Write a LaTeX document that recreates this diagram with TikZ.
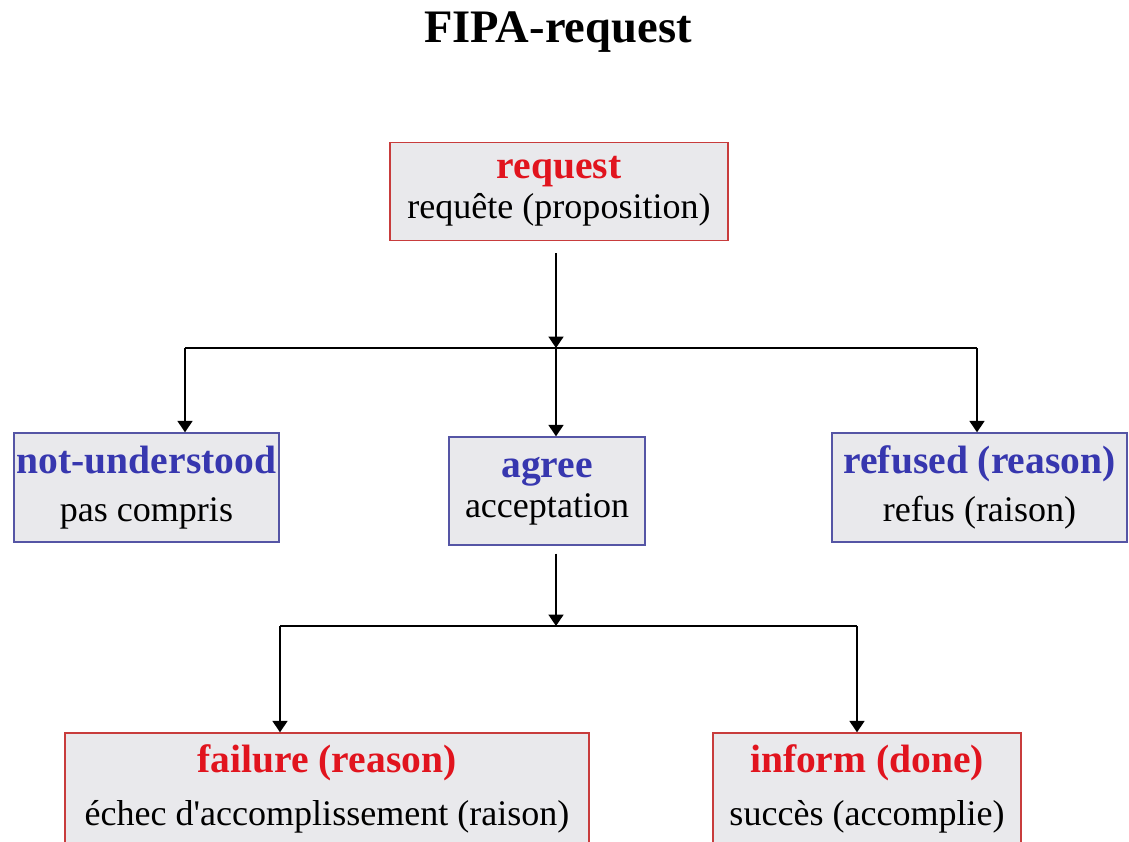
\documentclass[tikz,border=0pt]{standalone}
\usepackage{fontspec}
\setmainfont{Liberation Serif}
\usetikzlibrary{arrows.meta}

\definecolor{boxgray}{RGB}{233,233,236}
\definecolor{edgered}{RGB}{200,60,60}
\definecolor{textred}{RGB}{225,20,30}
\definecolor{edgeblue}{RGB}{85,85,165}
\definecolor{textblue}{RGB}{55,55,175}

\tikzset{
  actbox/.style={rectangle, fill=boxgray, line width=0.8pt, align=center,
    inner sep=0pt, font=\fontsize{20.5}{25.6}\selectfont},
  redbox/.style={actbox, draw=edgered},
  bluebox/.style={actbox, draw=edgeblue},
  link/.style={line width=1.1pt},
  arr/.style={link, -{Triangle[width=8.5pt,length=6.5pt]}}
}

\newcommand{\redhead}[1]{{\fontsize{22.5}{25.6}\selectfont\bfseries\color{textred}#1}}
\newcommand{\bluehead}[1]{{\fontsize{22.5}{25.6}\selectfont\bfseries\color{textblue}#1}}

\begin{document}
\begin{tikzpicture}
\useasboundingbox (0,0) rectangle (22.58,16.82);

\node[anchor=base, font=\fontsize{26.5}{30}\selectfont\bfseries] (title) at (11.16,15.96) {FIPA-request};

\node[redbox, minimum width=6.76cm, minimum height=1.96cm] (req) at (11.18,12.99)
  {\redhead{request}\\[-0.1cm] requête (proposition)};

\node[bluebox, minimum width=5.30cm, minimum height=2.18cm] (nu) at (2.93,7.07)
  {\bluehead{not-understood}\\[0.05cm] pas compris};
\node[bluebox, minimum width=3.92cm, minimum height=2.16cm] (ag) at (10.94,7.00)
  {\bluehead{agree}\\[-0.1cm] acceptation};
\node[bluebox, minimum width=5.90cm, minimum height=2.18cm] (ref) at (19.59,7.07)
  {\bluehead{refused (reason)}\\[0.05cm] refus (raison)};

\node[redbox, minimum width=10.48cm, minimum height=2.24cm] (fail) at (6.54,1.04)
  {\redhead{failure (reason)}\\[0.15cm] échec d\textquotesingle accomplissement (raison)};
\node[redbox, minimum width=6.16cm, minimum height=2.24cm] (inf) at (17.34,1.04)
  {\redhead{inform (done)}\\[0.15cm] succès (accomplie)};

% first branching
\coordinate (hub1) at (11.12,9.86);
\coordinate (left1) at (3.70,9.86);
\coordinate (right1) at (19.54,9.86);

\draw[arr] ([yshift=-0.24cm]hub1 |- req.south) -- (hub1);
\draw[link] (left1) -- (right1);
\draw[arr] (left1) -- (left1 |- nu.north);
\draw[arr] (hub1) -- (hub1 |- ag.north);
\draw[arr] (right1) -- (right1 |- ref.north);

% second branching
\coordinate (hub2) at (11.12,4.30);
\coordinate (left2) at (5.60,4.30);
\coordinate (right2) at (17.14,4.30);

\draw[arr] ([yshift=-0.16cm]hub2 |- ag.south) -- (hub2);
\draw[link] (left2) -- (right2);
\draw[arr] (left2) -- (left2 |- fail.north);
\draw[arr] (right2) -- (right2 |- inf.north);
\end{tikzpicture}
\end{document}
